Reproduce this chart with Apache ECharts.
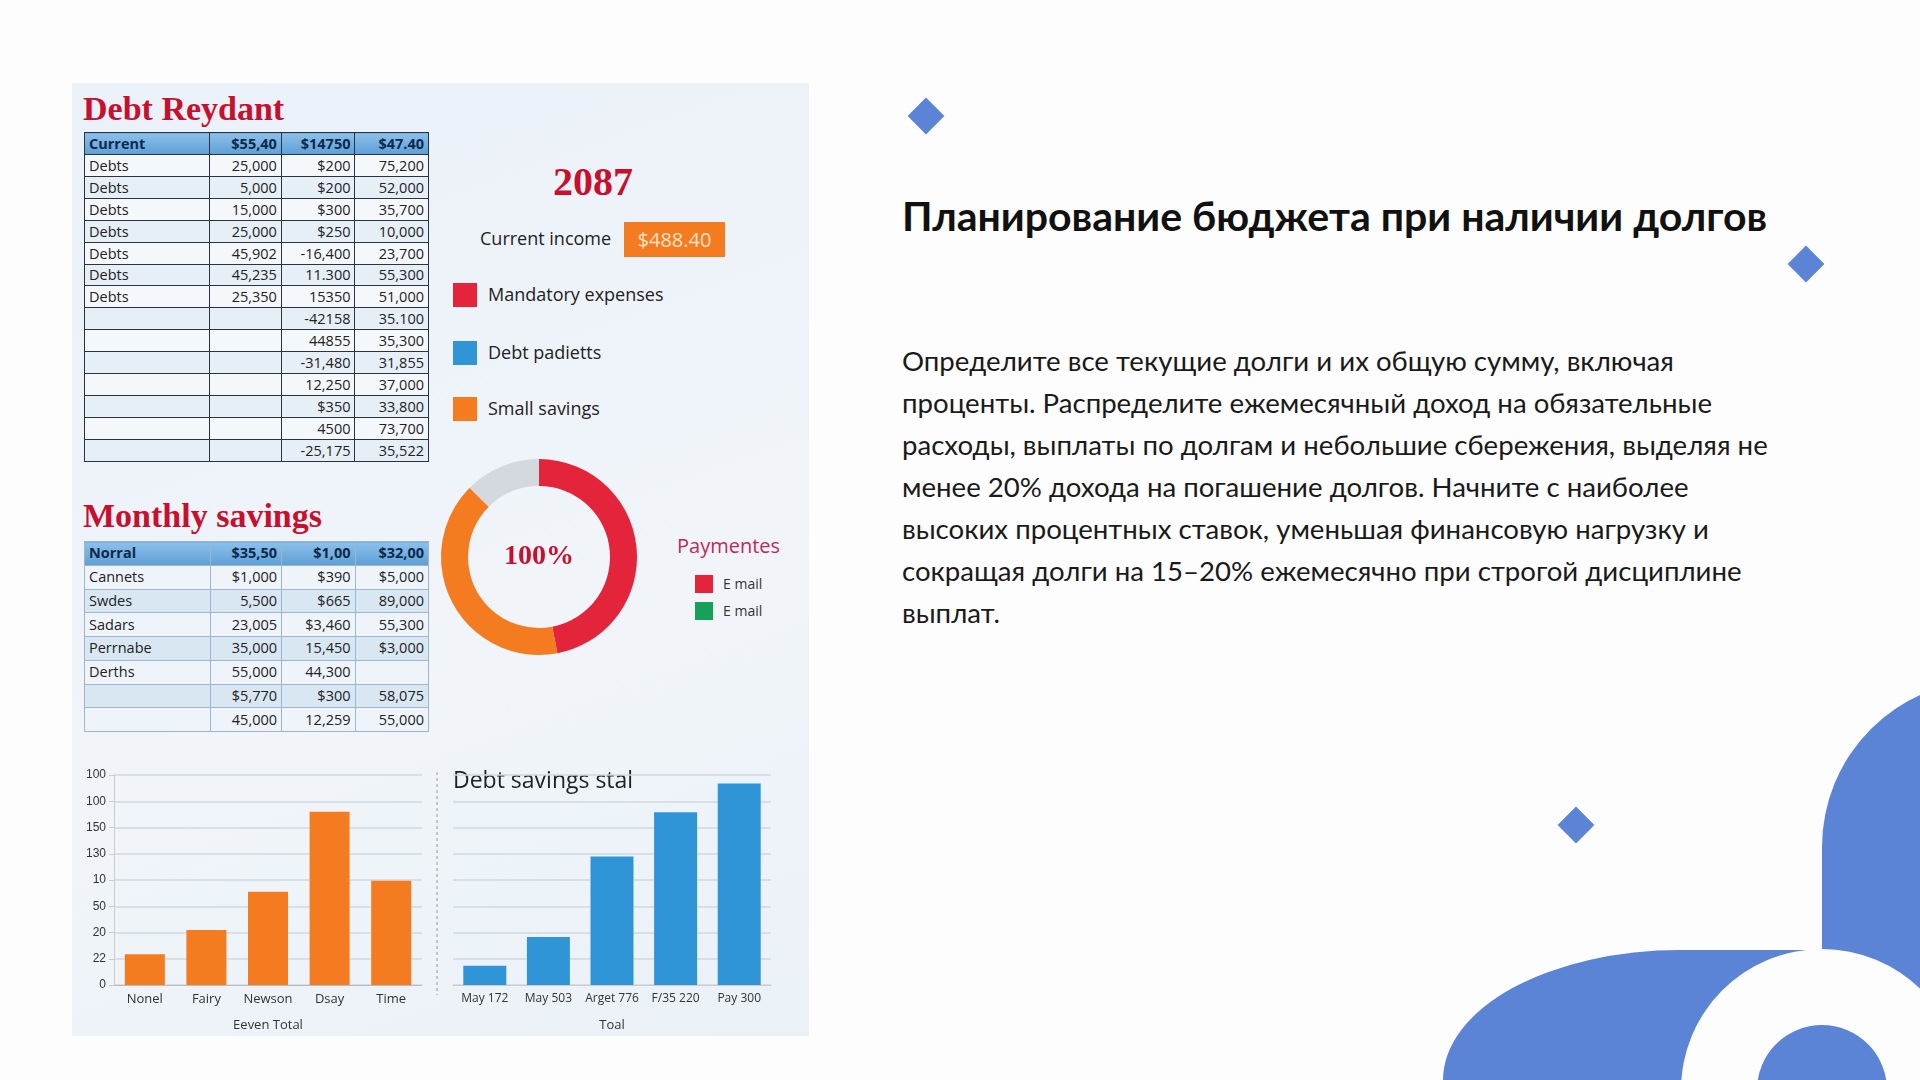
<!DOCTYPE html>
<html><head><meta charset="utf-8">
<script src="https://cdn.jsdelivr.net/npm/echarts@6/dist/echarts.min.js"></script>
<style>
body{margin:0;width:1920px;height:1080px;background:#fdfdfd;position:relative;overflow:hidden;font-family:"Open Sans",sans-serif;}
.abs{position:absolute;}
#panel{left:72px;top:83px;width:737px;height:953px;background:linear-gradient(160deg,#eaf1f8,#f1f5fa 60%,#eaf1f7);}
.ttl{font-family:"Liberation Serif",serif;font-weight:bold;color:#c8102e;}
table{border-collapse:collapse;color:#222;}
#t1{height:330px}
#t1 td{border:1.5px solid #2a3440;padding:0 4px;line-height:17px;font-size:14.5px}
#t1 tr:nth-child(even) td{background:#f4f8fb}
#t1 tr:nth-child(odd) td{background:#e6eef6}
.hd td{background:linear-gradient(#8cc0ea,#5e9fd6)!important;font-weight:bold;color:#0d2a4a;}
#t2{height:191px}
#t2 td{border:1px solid #9db6cc;padding:0 4px;line-height:20px;font-size:14.5px}
#t2 tr:nth-child(odd) td{background:#d9e7f3}
#t2 tr:nth-child(even) td{background:#eef4fa}
td.r{text-align:right}
.lg{font-size:18px;color:#222;}
.sq{width:24px;height:24px;}
#chart{left:0;top:0;width:1920px;height:1080px;}
</style></head><body>
<div id="panel" class="abs"></div>
<svg class="abs" style="left:0;top:0" width="1920" height="1080">
 <g fill="#5b84d6">
  <rect x="913" y="103" width="26" height="26" transform="rotate(45 926 116)"/>
  <rect x="1793" y="251" width="26" height="26" transform="rotate(45 1806 264)"/>
  <rect x="1563" y="812" width="26" height="26" transform="rotate(45 1576 825)"/>
  <circle cx="1989" cy="847" r="167"/>
  <rect x="1822" y="847" width="120" height="240"/>
  <ellipse cx="1680" cy="1080" rx="237" ry="130"/>
  <rect x="1680" y="950" width="150" height="130"/>
 </g>
 <circle cx="1822" cy="1090" r="141" fill="#fdfdfd"/>
 <circle cx="1822" cy="1090" r="65" fill="#5b84d6"/>
</svg>
<div class="abs ttl" style="left:83px;top:90px;font-size:34px">Debt Reydant</div>
<div class="abs ttl" style="left:83px;top:497px;font-size:34px">Monthly savings</div>
<div class="abs ttl" style="left:553px;top:158px;font-size:40px">2087</div>
<table id="t1" class="abs" style="left:84px;top:132px;width:345px"></table>
<table id="t2" class="abs" style="left:84px;top:541px;width:345px"></table>
<div class="abs lg" style="left:480px;top:226px">Current income</div>
<div class="abs" style="left:624px;top:222px;width:101px;height:35px;background:#f47b20;color:#fde3c8;font-size:20px;line-height:35px;text-align:center;">$488.40</div>
<div class="abs sq" style="left:453px;top:283px;background:#e3243b"></div>
<div class="abs lg" style="left:488px;top:282px">Mandatory expenses</div>
<div class="abs sq" style="left:453px;top:341px;background:#2f95d6"></div>
<div class="abs lg" style="left:488px;top:340px">Debt padietts</div>
<div class="abs sq" style="left:453px;top:397px;background:#f47b20"></div>
<div class="abs lg" style="left:488px;top:396px">Small savings</div>
<div class="abs" style="left:677px;top:532px;font-size:20px;color:#c0285a">Paymentes</div>
<div class="abs" style="left:695px;top:575px;width:18px;height:18px;background:#e3243b"></div>
<div class="abs" style="left:723px;top:574px;font-size:14px;color:#333">E mail</div>
<div class="abs" style="left:695px;top:602px;width:18px;height:18px;background:#17a05a"></div>
<div class="abs" style="left:723px;top:601px;font-size:14px;color:#333">E mail</div>
<div class="abs" style="left:902px;top:191px;font-family:Lato,sans-serif;font-weight:bold;font-size:41px;color:#111;white-space:nowrap">Планирование бюджета при наличии долгов</div>
<div class="abs" style="left:902px;top:340px;font-family:Lato,sans-serif;font-size:27.6px;line-height:42px;color:#1a1a1a;white-space:nowrap">Определите все текущие долги и их общую сумму, включая<br>проценты. Распределите ежемесячный доход на обязательные<br>расходы, выплаты по долгам и небольшие сбережения, выделяя не<br>менее 20% дохода на погашение долгов. Начните с наиболее<br>высоких процентных ставок, уменьшая финансовую нагрузку и<br>сокращая долги на 15–20% ежемесячно при строгой дисциплине<br>выплат.</div>
<div id="chart" class="abs"></div>
<script>
const table1Header = ["Current","$55,40","$14750","$47.40"];
const table1Rows = [
 ["Debts","25,000","$200","75,200"],["Debts","5,000","$200","52,000"],["Debts","15,000","$300","35,700"],
 ["Debts","25,000","$250","10,000"],["Debts","45,902","-16,400","23,700"],["Debts","45,235","11.300","55,300"],
 ["Debts","25,350","15350","51,000"],["","","-42158","35.100"],["","","44855","35,300"],["","","-31,480","31,855"],
 ["","","12,250","37,000"],["","","$350","33,800"],["","","4500","73,700"],["","","-25,175","35,522"]];
const table2Header = ["Norral","$35,50","$1,00","$32,00"];
const table2Rows = [
 ["Cannets","$1,000","$390","$5,000"],["Swdes","5,500","$665","89,000"],["Sadars","23,005","$3,460","55,300"],
 ["Perrnabe","35,000","15,450","$3,000"],["Derths","55,000","44,300",""],["","$5,770","$300","58,075"],["","45,000","12,259","55,000"]];
const leftCats = ["Nonel","Fairy","Newson","Dsay","Time"];
const leftVals = [1.17, 2.1, 3.55, 6.6, 3.97];
const leftTicks = ["0","22","20","50","10","130","150","100","100"];
const rightCats = ["May 172","May 503","Arget 776","F/35 220","Pay 300"];
const rightVals = [0.73, 1.83, 4.9, 6.58, 7.68];
const donutNames = ["Mandatory expenses","Small savings","Other"];
const donutVals = [47, 40.5, 12.5];

function fill(id, head, rows, widths){
  const t=document.getElementById(id);
  let h='<tr class="hd">'+head.map((c,i)=>`<td class="${i?'r':''}" style="width:${widths[i]}px">${c}</td>`).join('')+'</tr>';
  rows.forEach(r=>{h+='<tr>'+r.map((c,i)=>`<td class="${i?'r':''}">${c}</td>`).join('')+'</tr>';});
  t.innerHTML=h;
}
fill('t1',table1Header,table1Rows,[118,63,65,65]);
fill('t2',table2Header,table2Rows,[118,63,65,65]);

const chart = echarts.init(document.getElementById('chart'),null,{renderer:'canvas'});
const axLab={color:'#333',fontSize:13,fontFamily:'Open Sans'};
chart.setOption({
 animation:false,
 grid:[{left:114,top:775,width:308,height:210},{left:453,top:775,width:318,height:210}],
 xAxis:[
  {gridIndex:0,type:'category',data:leftCats,axisTick:{show:false},axisLine:{lineStyle:{color:'#bbb'}},axisLabel:Object.assign({interval:0},axLab),
   name:'Eeven Total',nameLocation:'middle',nameGap:34,nameTextStyle:axLab},
  {gridIndex:1,type:'category',data:rightCats,axisTick:{show:false},axisLine:{lineStyle:{color:'#ccc'}},axisLabel:Object.assign({},axLab,{interval:0,fontSize:12}),
   name:'Toal',nameLocation:'middle',nameGap:34,nameTextStyle:axLab}],
 yAxis:[
  {gridIndex:0,type:'value',min:0,max:8,interval:1,axisLine:{show:true,lineStyle:{color:'#ccc'}},axisTick:{show:true,lineStyle:{color:'#ccc'}},
   axisLabel:{color:'#333',fontSize:12,formatter:v=>leftTicks[Math.round(v)]},splitLine:{lineStyle:{color:'#cfd8e0',width:1.5}}},
  {gridIndex:1,type:'value',min:0,max:8,interval:1,axisLabel:{show:false},splitLine:{lineStyle:{color:'#cfd8e0',width:1.5}}}],
 series:[
  {type:'bar',xAxisIndex:0,yAxisIndex:0,data:leftVals,barWidth:40,itemStyle:{color:'#f47b20'}},
  {type:'bar',xAxisIndex:1,yAxisIndex:1,data:rightVals,barWidth:43,itemStyle:{color:'#2f95d6'}},
  {type:'pie',center:[539,557],radius:[71,98],startAngle:90,clockwise:true,label:{show:false},labelLine:{show:false},
   data:donutNames.map((n,i)=>({name:n,value:donutVals[i]})),color:['#e3243b','#f47b20','#d3d9df']}],
 graphic:[
  {type:'text',left:453,top:770,style:{text:'Debt savings stal',fontSize:23,fill:'#222',fontFamily:'Open Sans'}},
  {type:'line',shape:{x1:437,y1:772,x2:437,y2:995},style:{stroke:'#aaa',lineDash:[3,3],lineWidth:1.2}},
  {type:'text',x:539,y:557,style:{text:'100%',fontSize:28,fontWeight:'bold',fill:'#c8102e',fontFamily:'Liberation Serif',align:'center',verticalAlign:'middle'}}
 ]
});
</script>
</body></html>
